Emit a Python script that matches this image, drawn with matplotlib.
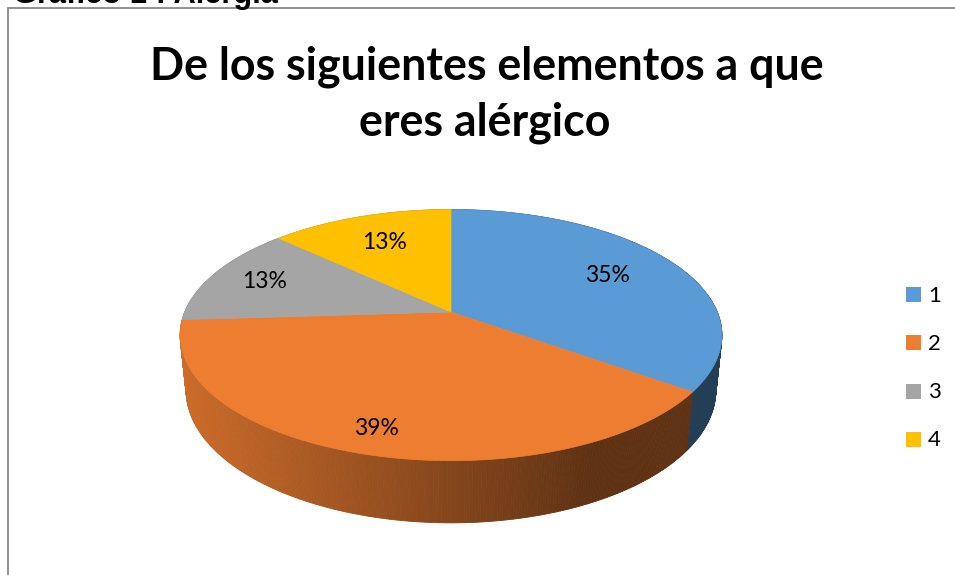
import numpy as np
import matplotlib
matplotlib.use("Agg")
import matplotlib.pyplot as plt
from matplotlib.patches import Polygon, Rectangle
from matplotlib.colors import to_rgb

# ---- data ----
categories = ["1", "2", "3", "4"]
percentages = [35, 39, 13, 13]
slice_colors = ["#5B9BD5", "#ED7D31", "#A5A5A5", "#FFC000"]
title_lines = ["De los siguientes elementos a que", "eres alérgico"]
caption = "Gráfico 1 : Alergia"

W, H = 955, 575
fig = plt.figure(figsize=(W / 100, H / 100), dpi=100)
ax = fig.add_axes([0, 0, 1, 1])
ax.set_xlim(0, W)
ax.set_ylim(H, 0)
ax.axis("off")

# ---- perspective projection of the 3D pie ----
cx, cy = 451.0, 312.0
f = 1286.0
D = 4.83
sinT, cosT = 0.4556, 0.890
h = 0.2335


def proj(X, Z, Y):
    depth = D + Z * cosT - Y * sinT
    return cx + f * X / depth, cy - f * (Z * sinT + Y * cosT) / depth


def shade(sx):
    return np.interp(sx, [185, 590], [0.86, 0.40])


vals = np.array(percentages, dtype=float)
fr = vals / vals.sum()
starts = np.concatenate([[0], np.cumsum(fr)[:-1]])
ends = np.cumsum(fr)

# side strips
strips = []
for i, (s, e) in enumerate(zip(starts, ends)):
    n = max(int((e - s) * 720), 2)
    phis = np.deg2rad(90 - 360 * np.linspace(s, e, n + 1))
    for a0, a1 in zip(phis[:-1], phis[1:]):
        X0, Z0, X1, Z1 = np.cos(a0), np.sin(a0), np.cos(a1), np.sin(a1)
        p = [proj(X0, Z0, 0), proj(X1, Z1, 0), proj(X1, Z1, -h), proj(X0, Z0, -h)]
        zm = (Z0 + Z1) / 2
        strips.append((zm, i, p))
strips.sort(key=lambda t: -t[0])
for zm, i, p in strips:
    xm = np.mean([q[0] for q in p])
    c = np.array(to_rgb(slice_colors[i])) * shade(xm)
    ax.add_patch(Polygon(p, closed=True, facecolor=c, edgecolor=c, lw=0.6))

# top faces
for i, (s, e) in enumerate(zip(starts, ends)):
    phis = np.deg2rad(90 - 360 * np.linspace(s, e, 200))
    pts = [proj(0, 0, 0)] + [proj(np.cos(a), np.sin(a), 0) for a in phis]
    ax.add_patch(Polygon(pts, closed=True, facecolor=slice_colors[i],
                         edgecolor=slice_colors[i], lw=0.5))

fig.canvas.draw()
renderer = fig.canvas.get_renderer()


def fit(t, target_w):
    w = t.get_window_extent(renderer).width
    t.set_fontsize(t.get_fontsize() * target_w / w)
    return t


# percentage labels
label_r = [0.70, 0.85, 0.78, 0.70]
for i, (s, e) in enumerate(zip(starts, ends)):
    m = np.deg2rad(90 - 360 * (s + e) / 2)
    r = label_r[i]
    lx, ly = proj(r * np.cos(m), r * np.sin(m), 0)
    t = ax.text(lx, ly, f"{percentages[i]}%", ha="center", va="center",
                fontsize=18, family="Lato", color="black")
    fit(t, 45)

# title
t1 = ax.text(487, 79, title_lines[0], ha="center", va="baseline",
             fontsize=34, family="Lato", weight="bold", color="black")
fit(t1, 675)
ax.text(485, 136, title_lines[1], ha="center", va="baseline",
        fontsize=t1.get_fontsize(), family="Lato", weight="bold", color="black")

# caption (cut off at top)
tc = ax.text(13, 3, caption, ha="left", va="baseline", fontsize=20,
             family="Liberation Sans", weight="bold", color="black")
fit(tc, 265)

# border
ax.plot([8, 8, W + 5], [H + 5, 8, 8], color="#8A8A8A", lw=1.3,
        solid_joinstyle="miter", clip_on=False)

# legend
for i, cat in enumerate(categories):
    yc = 294.5 + 48.3 * i
    ax.add_patch(Rectangle((906, yc - 7.5), 15, 15, facecolor=slice_colors[i],
                           edgecolor="none"))
    ax.text(928, yc + 1, cat, ha="left", va="center", fontsize=16,
            family="Lato", color="black")

fig.savefig("out.png", dpi=100)
